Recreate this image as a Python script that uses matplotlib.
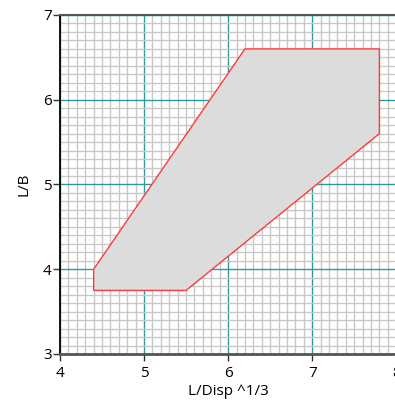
import matplotlib
matplotlib.use("Agg")
import matplotlib.pyplot as plt
from matplotlib.ticker import MultipleLocator

# envelope corners (L/Disp^1/3, L/B)
env_x = [4.4, 4.4, 5.5, 7.8, 7.8, 6.2]
env_y = [4.0, 3.75, 3.75, 5.6, 6.6, 6.6]

x_ticks = [4, 5, 6, 7, 8]
y_ticks = [3, 4, 5, 6, 7]

plt.rcParams["font.family"] = ["Open Sans", "DejaVu Sans"]

fig = plt.figure(figsize=(3.95, 4.03), dpi=100)
ax = fig.add_axes([0.152, 0.1216, 0.851, 0.8412])

ax.set_xlim(4, 8)
ax.set_ylim(3, 7)
ax.set_xticks(x_ticks)
ax.set_yticks(y_ticks)
ax.xaxis.set_minor_locator(MultipleLocator(0.1))
ax.yaxis.set_minor_locator(MultipleLocator(0.1))

ax.grid(which="minor", color="#c8c8c8", linewidth=1.0)
ax.grid(which="major", color="#2e9a9a", linewidth=1.0)
ax.set_axisbelow(True)

ax.fill(env_x, env_y, facecolor="#dcdcdc", edgecolor="#ff3b3b", linewidth=1.0, zorder=3)

ax.tick_params(which="minor", length=0)
ax.tick_params(which="major", length=5, width=1, labelsize=11, color="#333333")
ax.tick_params(axis="x", pad=4)
ax.tick_params(axis="y", pad=1)

ax.spines["left"].set_color("black")
ax.spines["left"].set_linewidth(1.3)
ax.spines["bottom"].set_color("#555555")
ax.spines["bottom"].set_linewidth(2)
ax.spines["top"].set_color("#555555")
ax.spines["top"].set_linewidth(1.5)
ax.spines["right"].set_visible(False)

ax.set_xlabel("L/Disp ^1/3", fontsize=11, labelpad=2)
ax.set_ylabel("L/B", fontsize=11, labelpad=8)

fig.savefig("out.png", dpi=100)
